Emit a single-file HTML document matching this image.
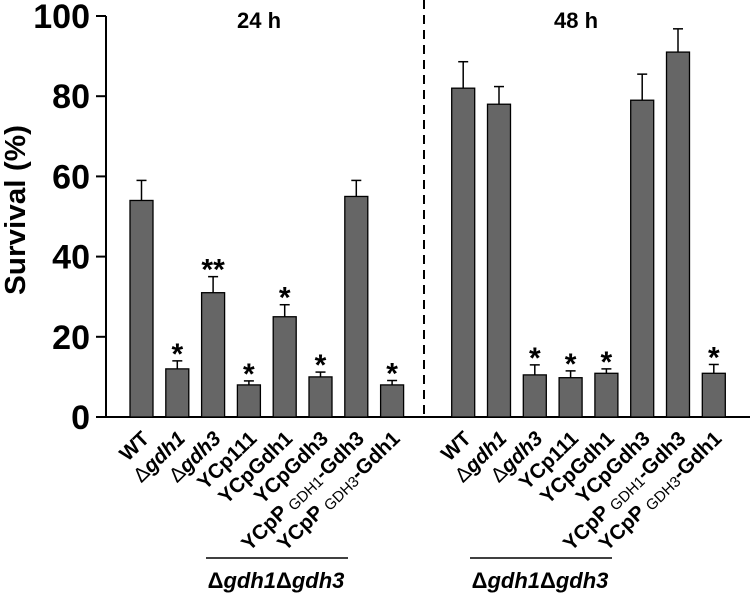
<!DOCTYPE html>
<html><head><meta charset="utf-8"><style>
body{margin:0;background:#fff}
svg{display:block;font-family:"Liberation Sans",Arial,sans-serif}
</style></head><body>
<svg id="chart" width="750" height="593" viewBox="0 0 750 593">
<g id="g"></g>
</svg>
<script>
const categories=["WT","Δgdh1","Δgdh3","YCp111","YCpGdh1","YCpGdh3","YCpP GDH1-Gdh3","YCpP GDH3-Gdh1"];
const values24=[54,12,31,8,25,10,55,8];
const errors24=[5,2,4,1,3,1.2,4,1.1];
const stars24=["","*","**","*","*","*","","*"];
const values48=[82,78,10.5,9.8,10.9,79,91,10.9];
const errors48=[6.6,4.4,2.5,1.7,1.1,6.5,5.8,2.2];
const stars48=["","","*","*","*","","","*"];
const yTicks=[0,20,40,60,80,100];

const NS="http://www.w3.org/2000/svg";
const g=document.getElementById('g');
function y(v){return 417-v*4.01;}
function mk(tag,attrs,parent){const e=document.createElementNS(NS,tag);for(const k in attrs)e.setAttribute(k,attrs[k]);(parent||g).appendChild(e);return e;}

let ax=mk('line',{x1:106,y1:y(0),x2:750,y2:y(0),stroke:'#000','stroke-width':2});


let ay=mk('line',{x1:106,y1:y(0),x2:106,y2:y(100),stroke:'#000','stroke-width':2});


yTicks.forEach(t=>{
  let l=mk('line',{x1:96,y1:y(t),x2:106,y2:y(t),stroke:'#000','stroke-width':2});
  
  
  let tx=mk('text',{x:90,y:y(t)+12,'text-anchor':'end','font-size':34,'font-weight':'bold'});
  tx.textContent=t;
  
  
});
let yt=mk('text',{transform:'translate(25,210) rotate(-90)','text-anchor':'middle','font-size':29,'font-weight':'bold',textLength:170,lengthAdjust:'spacingAndGlyphs'});
yt.textContent='Survival (%)';



let dl=mk('line',{x1:424,y1:0,x2:424,y2:y(0),stroke:'#000','stroke-width':2,'stroke-dasharray':'9,6'});



function group(start,vals,errs,stars,title,titleX,lineX){
  let tt=mk('text',{x:titleX,y:28,'text-anchor':'middle','font-size':22,'font-weight':'bold'});
  tt.textContent=title;
  
  
  vals.forEach((v,i)=>{
    const x0=start+i*35.8, cx=x0+11.5;
    const top=y(v+errs[i]);
    let el=mk('line',{x1:cx,y1:y(v),x2:cx,y2:top,stroke:'#000','stroke-width':1.5});
    
    
    let cap=mk('line',{x1:cx-5,y1:top,x2:cx+5,y2:top,stroke:'#000','stroke-width':1.5});
    
    
    let r=mk('rect',{x:x0,y:y(v),width:23,height:y(0)-y(v),fill:'#666',stroke:'#000','stroke-width':1.3});
    
    
    if(stars[i]){
      let s=mk('text',{x:cx,y:top+3,'text-anchor':'middle','font-size':30,'font-weight':'bold'});
      s.textContent=stars[i];
      
      
    }
    const lab=categories[i];
    let t=mk('text',{transform:`translate(${cx+9},440) rotate(-44)`,'text-anchor':'end','font-size':20.5,'font-weight':'bold'});
    if(lab.startsWith('Δ')){
      t.innerHTML='<tspan font-weight="normal">Δ</tspan><tspan font-style="italic">'+lab.slice(1)+'</tspan>';
    }else if(lab.startsWith('YCpP ')){
      const parts=lab.split(' ');const sub=parts[1].split('-');
      t.innerHTML='YCpP <tspan font-size="15" font-weight="normal" dy="2">'+sub[0]+'</tspan><tspan dy="-2">-'+sub[1]+'</tspan>';
    }else t.textContent=lab;
    
    
  });
  let gl=mk('line',{x1:lineX,y1:558,x2:lineX+142,y2:558,stroke:'#000','stroke-width':1.5});
  
  
  let gt=mk('text',{x:lineX+70,y:588,'text-anchor':'middle','font-size':22,'font-weight':'bold','font-style':'italic'});
  gt.innerHTML='<tspan font-style="normal">Δ</tspan>gdh1<tspan font-style="normal">Δ</tspan>gdh3';
  
  
}
group(130,values24,errors24,stars24,'24 h',259,206);
group(451.7,values48,errors48,stars48,'48 h',576,470);
</script>
</body></html>
